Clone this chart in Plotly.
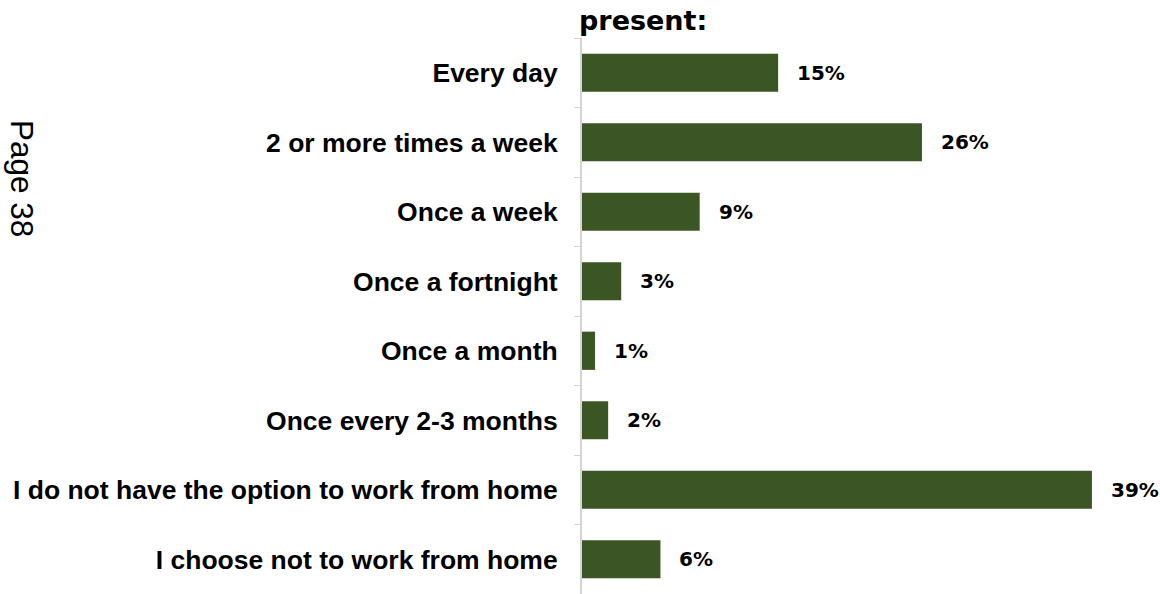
import plotly.graph_objects as go

categories = [
    "Every day",
    "2 or more times a week",
    "Once a week",
    "Once a fortnight",
    "Once a month",
    "Once every 2-3 months",
    "I do not have the option to work from home",
    "I choose not to work from home",
]
percentages = [15, 26, 9, 3, 1, 2, 39, 6]
labels = [f"{v}%" for v in percentages]

W, H = 1160, 594
ML, MR, MT, MB = 582, 55, 38, 0
plot_w = W - ML - MR
plot_h = H - MT - MB

fig = go.Figure(
    go.Bar(
        x=percentages,
        y=categories,
        orientation="h",
        marker=dict(color="#3b5524", line=dict(width=0)),
        cliponaxis=False,
    )
)

# value labels to the right of each bar
value_notes = [
    dict(
        x=v, y=c, text=t,
        xref="x", yref="y",
        xanchor="left", yanchor="middle",
        xshift=17,
        showarrow=False,
        font=dict(family="DejaVu Sans", size=20, color="#000000", weight="bold"),
    )
    for v, c, t in zip(percentages, categories, labels)
]

fig.update_layout(
    width=W,
    height=H,
    margin=dict(l=ML, r=MR, t=MT, b=MB),
    paper_bgcolor="white",
    plot_bgcolor="white",
    bargap=0.45,
    showlegend=False,
    xaxis=dict(
        range=[0, 40],
        visible=False,
        showgrid=False,
        zeroline=False,
    ),
    yaxis=dict(
        autorange="reversed",
        showline=True,
        linecolor="#d4d4d4",
        linewidth=2,
        ticks="outside",
        tickson="boundaries",
        ticklen=6,
        tickcolor="#d4d4d4",
        tickwidth=1,
        ticklabelstandoff=17,
        tickfont=dict(family="Liberation Sans", size=26.5, color="#000000", weight="bold"),
        showgrid=False,
    ),
    annotations=value_notes + [
        dict(
            text="<b>present:</b>",
            xref="paper", yref="paper",
            x=(577 - ML) / plot_w,
            y=1 + (MT - 21) / plot_h,
            xanchor="left", yanchor="middle",
            showarrow=False,
            font=dict(family="DejaVu Sans", size=27, color="#000000"),
        ),
        dict(
            text="Page 38",
            xref="paper", yref="paper",
            x=(22 - ML) / plot_w,
            y=1 - (178 - MT) / plot_h,
            xanchor="center", yanchor="middle",
            textangle=90,
            showarrow=False,
            font=dict(family="Liberation Sans", size=31.5, color="#000000"),
        ),
    ],
)

fig.write_html("out.html")
